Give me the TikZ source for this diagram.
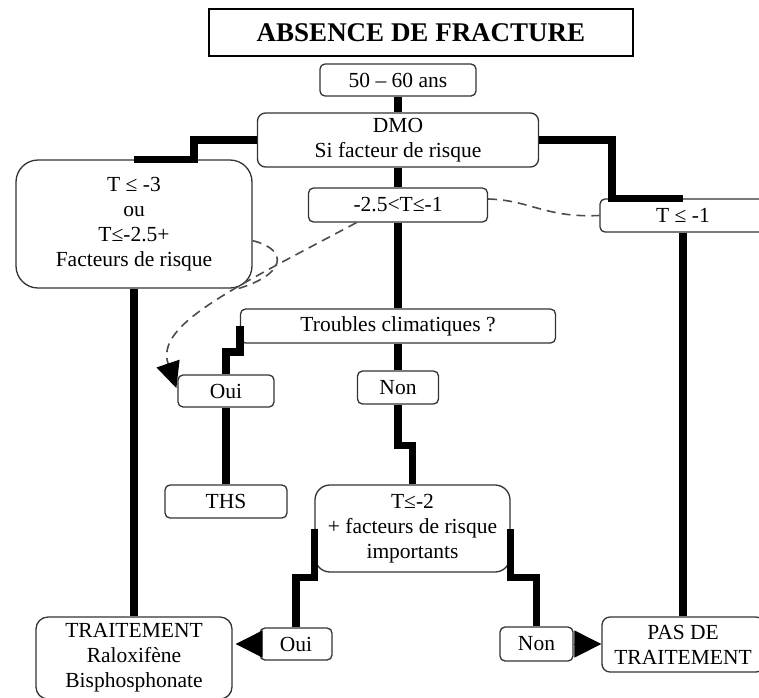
\documentclass[tikz,border=0pt]{standalone}
\usepackage{fontspec}
\setmainfont{Liberation Serif}
\usetikzlibrary{arrows.meta}

\begin{document}
\begin{tikzpicture}[x=1pt,y=-1pt,
  box/.style={draw=black!80, line width=1.3pt, rounded corners=5pt, align=center, inner sep=0pt, font=\fontsize{21.5}{25}\selectfont},
  link/.style={line width=7.5pt, black},
  dashlink/.style={line width=1.6pt, black!70, dash pattern=on 9pt off 6pt},
  pointer/.style={-{Triangle[length=27pt,width=27pt]}, line width=1pt}
]
\useasboundingbox (0,0) rectangle (759,697);
\clip (0,0) rectangle (759,697);

\node[draw, line width=1.6pt, minimum width=424pt, minimum height=47pt, font=\fontsize{27}{30}\selectfont\bfseries] (title) at (421,32.5) {ABSENCE DE FRACTURE};
\node[box, minimum width=156pt, minimum height=32pt] (age) at (398,80) {50 – 60 ans};
\node[box, rounded corners=8pt, minimum width=281pt, minimum height=54pt] (dmo) at (398,140) {DMO\\Si facteur de risque};
\node[box, rounded corners=22pt, minimum width=236pt, minimum height=128pt] (severe) at (134,224) {T ≤ -3\\ou\\T≤-2.5+\\Facteurs de risque};
\node[box, minimum width=179pt, minimum height=34pt] (mid) at (398,205) {-2.5<T≤-1};
\node[box, minimum width=166pt, minimum height=33pt] (low) at (683,215.5) {T ≤ -1};
\node[box, minimum width=315pt, minimum height=34pt] (troubles) at (398,326) {Troubles climatiques ?};
\node[box, minimum width=96pt, minimum height=32pt] (oui1) at (226,391) {Oui};
\node[box, minimum width=81pt, minimum height=33pt] (non1) at (398,387.5) {Non};
\node[box, minimum width=122pt, minimum height=33pt] (ths) at (226,501.5) {THS};
\node[box, rounded corners=15pt, minimum width=195pt, minimum height=87pt] (crit) at (412.5,528.5) {T≤-2\\+ facteurs de risque\\importants};
\node[box, minimum width=72pt, minimum height=32pt] (oui2) at (296,644) {Oui};
\node[box, minimum width=73pt, minimum height=34pt] (non2) at (536.5,644) {Non};
\node[box, rounded corners=12pt, minimum width=196pt, minimum height=82pt] (treat) at (134,658) {TRAITEMENT\\Raloxifène\\Bisphosphonate};
\node[box, rounded corners=8pt, minimum width=162pt, minimum height=55pt] (none) at (683,644.5) {PAS DE\\TRAITEMENT};

% straight links
\foreach \a/\b in {age/dmo, dmo/mid, mid/troubles, troubles/non1, oui1/ths, severe/treat, low/none} {
\draw[link] (\a.south) -- (\b.north);
}
% stepped links
\draw[link] (dmo.west) -- ++(-63,0) |- (severe.north);
\draw[link] (dmo.east) -- ++(73,0) |- (low.north);
\draw[link] (troubles.west) -- ++(0,26) -| (oui1.north);
\draw[link] (non1.south) -- ++(0,41) -| (crit.north);
\draw[link] (crit.west) -- ++(0,49) -| (oui2.north);
\draw[link] (crit.east) -- ++(0,49) -| (non2.north);

\draw[pointer, shorten >=3pt] (oui2.west) -- (oui2.west -| treat.east);
\draw[pointer] (non2.east) -- (non2.east -| none.west);

% dashed links
\draw[dashlink] ([yshift=6pt]mid.east) .. controls (530,200) and (545,218) .. (low.west);
\draw[dashlink, shorten >=3pt, -{Triangle[length=26pt,width=24pt,color=black]}] (mid.203) .. controls (230,290) and (155,325) .. coordinate[pos=0.38] (merge) (oui1.west);
\draw[dashlink] (severe.352) .. controls (290,250) and (285,275) .. (merge);
\end{tikzpicture}
\end{document}
